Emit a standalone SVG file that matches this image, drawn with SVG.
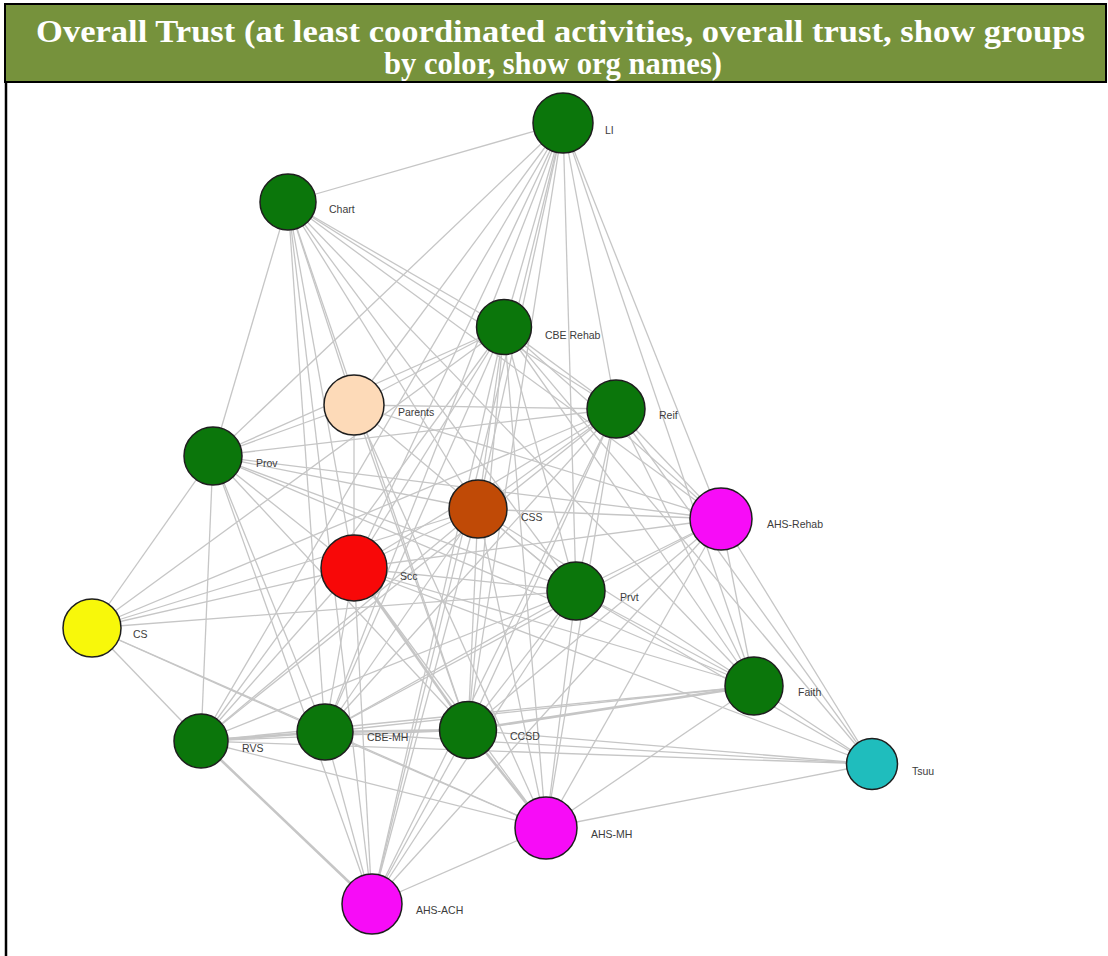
<svg xmlns="http://www.w3.org/2000/svg" width="1108" height="956" viewBox="0 0 1108 956">
<style>
.hdr{font-family:"Liberation Serif",serif;font-weight:bold;font-size:31px;fill:#ffffff}
.e{stroke:#c6c6c6;stroke-width:1.3;fill:none}
.ew{stroke:#c6c6c6;stroke-width:2.6;fill:none}
.n{stroke:#1e1e1e;stroke-width:1.5}
.g{fill:#0b760b}
.lbl{font-family:"Liberation Sans",Arial,sans-serif;font-size:10.5px;fill:#3c3c3c}
</style>
<rect x="0" y="0" width="1108" height="956" fill="#ffffff"/>
<g id="header">
<rect x="5" y="4" width="1101" height="78" fill="#76923c" stroke="#000" stroke-width="2"/>
<text class="hdr" x="36" y="42" textLength="1049" lengthAdjust="spacingAndGlyphs">Overall Trust (at least coordinated activities, overall trust, show groups</text>
<text class="hdr" x="384" y="74" textLength="338" lengthAdjust="spacingAndGlyphs">by color, show org names)</text>
</g>
<line x1="6" y1="82" x2="6" y2="956" stroke="#000" stroke-width="2.5"/>
<g id="connectors">
<line class="e" x1="563" y1="123" x2="288" y2="202"/>
<line class="e" x1="563" y1="123" x2="213" y2="456"/>
<line class="e" x1="563" y1="123" x2="354" y2="405"/>
<line class="e" x1="563" y1="123" x2="201" y2="741"/>
<line class="e" x1="563" y1="123" x2="354" y2="568"/>
<line class="e" x1="563" y1="123" x2="325" y2="732"/>
<line class="e" x1="563" y1="123" x2="372" y2="904"/>
<line class="e" x1="563" y1="123" x2="478" y2="509"/>
<line class="e" x1="563" y1="123" x2="468" y2="730"/>
<line class="e" x1="563" y1="123" x2="576" y2="591"/>
<line class="e" x1="563" y1="123" x2="616" y2="409"/>
<line class="e" x1="563" y1="123" x2="754" y2="686"/>
<line class="e" x1="563" y1="123" x2="721" y2="519"/>
<line class="e" x1="563" y1="123" x2="504" y2="327"/>
<line class="e" x1="288" y1="202" x2="213" y2="456"/>
<line class="e" x1="288" y1="202" x2="325" y2="732"/>
<line class="e" x1="288" y1="202" x2="372" y2="904"/>
<line class="e" x1="288" y1="202" x2="354" y2="568"/>
<line class="e" x1="288" y1="202" x2="354" y2="405"/>
<line class="e" x1="288" y1="202" x2="468" y2="730"/>
<line class="e" x1="288" y1="202" x2="478" y2="509"/>
<line class="e" x1="288" y1="202" x2="576" y2="591"/>
<line class="e" x1="288" y1="202" x2="504" y2="327"/>
<line class="e" x1="288" y1="202" x2="616" y2="409"/>
<line class="e" x1="288" y1="202" x2="721" y2="519"/>
<line class="e" x1="288" y1="202" x2="754" y2="686"/>
<line class="e" x1="504" y1="327" x2="213" y2="456"/>
<line class="e" x1="504" y1="327" x2="354" y2="405"/>
<line class="e" x1="504" y1="327" x2="478" y2="509"/>
<line class="e" x1="504" y1="327" x2="354" y2="568"/>
<line class="e" x1="504" y1="327" x2="201" y2="741"/>
<line class="e" x1="504" y1="327" x2="325" y2="732"/>
<line class="e" x1="504" y1="327" x2="468" y2="730"/>
<line class="e" x1="504" y1="327" x2="372" y2="904"/>
<line class="e" x1="504" y1="327" x2="546" y2="828"/>
<line class="e" x1="504" y1="327" x2="576" y2="591"/>
<line class="e" x1="504" y1="327" x2="754" y2="686"/>
<line class="e" x1="504" y1="327" x2="872" y2="764"/>
<line class="e" x1="504" y1="327" x2="721" y2="519"/>
<line class="e" x1="504" y1="327" x2="616" y2="409"/>
<line class="e" x1="504" y1="327" x2="92" y2="628"/>
<line class="e" x1="354" y1="405" x2="213" y2="456"/>
<line class="e" x1="354" y1="405" x2="354" y2="568"/>
<line class="e" x1="354" y1="405" x2="616" y2="409"/>
<line class="e" x1="354" y1="405" x2="721" y2="519"/>
<line class="e" x1="354" y1="405" x2="468" y2="730"/>
<line class="e" x1="354" y1="405" x2="546" y2="828"/>
<line class="e" x1="354" y1="405" x2="576" y2="591"/>
<line class="e" x1="616" y1="409" x2="213" y2="456"/>
<line class="e" x1="616" y1="409" x2="478" y2="509"/>
<line class="e" x1="616" y1="409" x2="354" y2="568"/>
<line class="e" x1="616" y1="409" x2="92" y2="628"/>
<line class="e" x1="616" y1="409" x2="201" y2="741"/>
<line class="e" x1="616" y1="409" x2="325" y2="732"/>
<line class="e" x1="616" y1="409" x2="468" y2="730"/>
<line class="e" x1="616" y1="409" x2="372" y2="904"/>
<line class="e" x1="616" y1="409" x2="576" y2="591"/>
<line class="e" x1="616" y1="409" x2="721" y2="519"/>
<line class="e" x1="616" y1="409" x2="754" y2="686"/>
<line class="e" x1="616" y1="409" x2="872" y2="764"/>
<line class="e" x1="616" y1="409" x2="546" y2="828"/>
<line class="e" x1="213" y1="456" x2="92" y2="628"/>
<line class="e" x1="213" y1="456" x2="478" y2="509"/>
<line class="e" x1="213" y1="456" x2="721" y2="519"/>
<line class="e" x1="213" y1="456" x2="576" y2="591"/>
<line class="e" x1="213" y1="456" x2="754" y2="686"/>
<line class="e" x1="213" y1="456" x2="354" y2="568"/>
<line class="e" x1="213" y1="456" x2="201" y2="741"/>
<line class="e" x1="213" y1="456" x2="325" y2="732"/>
<line class="e" x1="213" y1="456" x2="468" y2="730"/>
<line class="e" x1="213" y1="456" x2="372" y2="904"/>
<line class="e" x1="478" y1="509" x2="92" y2="628"/>
<line class="e" x1="478" y1="509" x2="721" y2="519"/>
<line class="e" x1="478" y1="509" x2="354" y2="568"/>
<line class="e" x1="478" y1="509" x2="576" y2="591"/>
<line class="e" x1="478" y1="509" x2="201" y2="741"/>
<line class="e" x1="478" y1="509" x2="325" y2="732"/>
<line class="e" x1="478" y1="509" x2="468" y2="730"/>
<line class="e" x1="478" y1="509" x2="372" y2="904"/>
<line class="e" x1="478" y1="509" x2="546" y2="828"/>
<line class="e" x1="478" y1="509" x2="754" y2="686"/>
<line class="e" x1="721" y1="519" x2="354" y2="568"/>
<line class="e" x1="721" y1="519" x2="576" y2="591"/>
<line class="e" x1="721" y1="519" x2="468" y2="730"/>
<line class="e" x1="721" y1="519" x2="325" y2="732"/>
<line class="e" x1="721" y1="519" x2="546" y2="828"/>
<line class="e" x1="721" y1="519" x2="372" y2="904"/>
<line class="e" x1="721" y1="519" x2="754" y2="686"/>
<line class="e" x1="721" y1="519" x2="872" y2="764"/>
<line class="e" x1="354" y1="568" x2="92" y2="628"/>
<line class="e" x1="354" y1="568" x2="576" y2="591"/>
<line class="e" x1="354" y1="568" x2="754" y2="686"/>
<line class="e" x1="354" y1="568" x2="201" y2="741"/>
<line class="e" x1="354" y1="568" x2="325" y2="732"/>
<line class="ew" x1="354" y1="568" x2="468" y2="730"/>
<line class="e" x1="354" y1="568" x2="372" y2="904"/>
<line class="e" x1="354" y1="568" x2="546" y2="828"/>
<line class="e" x1="354" y1="568" x2="872" y2="764"/>
<line class="e" x1="576" y1="591" x2="92" y2="628"/>
<line class="e" x1="576" y1="591" x2="754" y2="686"/>
<line class="e" x1="576" y1="591" x2="872" y2="764"/>
<line class="e" x1="576" y1="591" x2="468" y2="730"/>
<line class="e" x1="576" y1="591" x2="325" y2="732"/>
<line class="e" x1="576" y1="591" x2="201" y2="741"/>
<line class="e" x1="576" y1="591" x2="372" y2="904"/>
<line class="e" x1="576" y1="591" x2="546" y2="828"/>
<line class="e" x1="92" y1="628" x2="201" y2="741"/>
<line class="e" x1="92" y1="628" x2="325" y2="732"/>
<line class="e" x1="92" y1="628" x2="546" y2="828"/>
<line class="ew" x1="754" y1="686" x2="468" y2="730"/>
<line class="e" x1="754" y1="686" x2="325" y2="732"/>
<line class="e" x1="754" y1="686" x2="201" y2="741"/>
<line class="e" x1="754" y1="686" x2="546" y2="828"/>
<line class="e" x1="754" y1="686" x2="872" y2="764"/>
<line class="e" x1="872" y1="764" x2="468" y2="730"/>
<line class="e" x1="872" y1="764" x2="325" y2="732"/>
<line class="e" x1="872" y1="764" x2="201" y2="741"/>
<line class="e" x1="872" y1="764" x2="546" y2="828"/>
<line class="ew" x1="201" y1="741" x2="325" y2="732"/>
<line class="e" x1="201" y1="741" x2="468" y2="730"/>
<line class="e" x1="201" y1="741" x2="546" y2="828"/>
<line class="ew" x1="201" y1="741" x2="372" y2="904"/>
<line class="ew" x1="325" y1="732" x2="468" y2="730"/>
<line class="e" x1="325" y1="732" x2="372" y2="904"/>
<line class="e" x1="325" y1="732" x2="546" y2="828"/>
<line class="e" x1="468" y1="730" x2="372" y2="904"/>
<line class="ew" x1="468" y1="730" x2="546" y2="828"/>
<line class="e" x1="546" y1="828" x2="372" y2="904"/>
</g>
<g id="node-LI"><circle class="n g" cx="563" cy="123" r="30"/><text class="lbl" x="605" y="134">LI</text></g>
<g id="node-Chart"><circle class="n g" cx="288" cy="202" r="28"/><text class="lbl" x="329" y="213">Chart</text></g>
<g id="node-CBE-Rehab"><circle class="n g" cx="504" cy="327" r="27.5"/><text class="lbl" x="545" y="339">CBE Rehab</text></g>
<g id="node-Parents"><circle class="n" fill="#fddab8" cx="354" cy="405" r="30"/><text class="lbl" x="398" y="416">Parents</text></g>
<g id="node-Reif"><circle class="n g" cx="616" cy="409" r="29"/><text class="lbl" x="659" y="419">Reif</text></g>
<g id="node-Prov"><circle class="n g" cx="213" cy="456" r="29"/><text class="lbl" x="256" y="467">Prov</text></g>
<g id="node-CSS"><circle class="n" fill="#c04a06" cx="478" cy="509" r="29"/><text class="lbl" x="521" y="521">CSS</text></g>
<g id="node-AHS-Rehab"><circle class="n" fill="#f70cf7" cx="721" cy="519" r="31"/><text class="lbl" x="767" y="528">AHS-Rehab</text></g>
<g id="node-Scc"><circle class="n" fill="#f80808" cx="354" cy="568" r="33"/><text class="lbl" x="400" y="580">Scc</text></g>
<g id="node-Prvt"><circle class="n g" cx="576" cy="591" r="29"/><text class="lbl" x="620" y="601">Prvt</text></g>
<g id="node-CS"><circle class="n" fill="#f8f80a" cx="92" cy="628" r="29"/><text class="lbl" x="133" y="638">CS</text></g>
<g id="node-Faith"><circle class="n g" cx="754" cy="686" r="29"/><text class="lbl" x="798" y="696">Faith</text></g>
<g id="node-Tsuu"><circle class="n" fill="#1fbdbd" cx="872" cy="764" r="25.5"/><text class="lbl" x="912" y="775">Tsuu</text></g>
<g id="node-RVS"><circle class="n g" cx="201" cy="741" r="27"/><text class="lbl" x="242" y="752">RVS</text></g>
<g id="node-CBE-MH"><circle class="n g" cx="325" cy="732" r="28"/><text class="lbl" x="367" y="741">CBE-MH</text></g>
<g id="node-CCSD"><circle class="n g" cx="468" cy="730" r="28.5"/><text class="lbl" x="510" y="740">CCSD</text></g>
<g id="node-AHS-MH"><circle class="n" fill="#f70cf7" cx="546" cy="828" r="31"/><text class="lbl" x="591" y="838">AHS-MH</text></g>
<g id="node-AHS-ACH"><circle class="n" fill="#f70cf7" cx="372" cy="904" r="30"/><text class="lbl" x="416" y="914">AHS-ACH</text></g>
</svg>
